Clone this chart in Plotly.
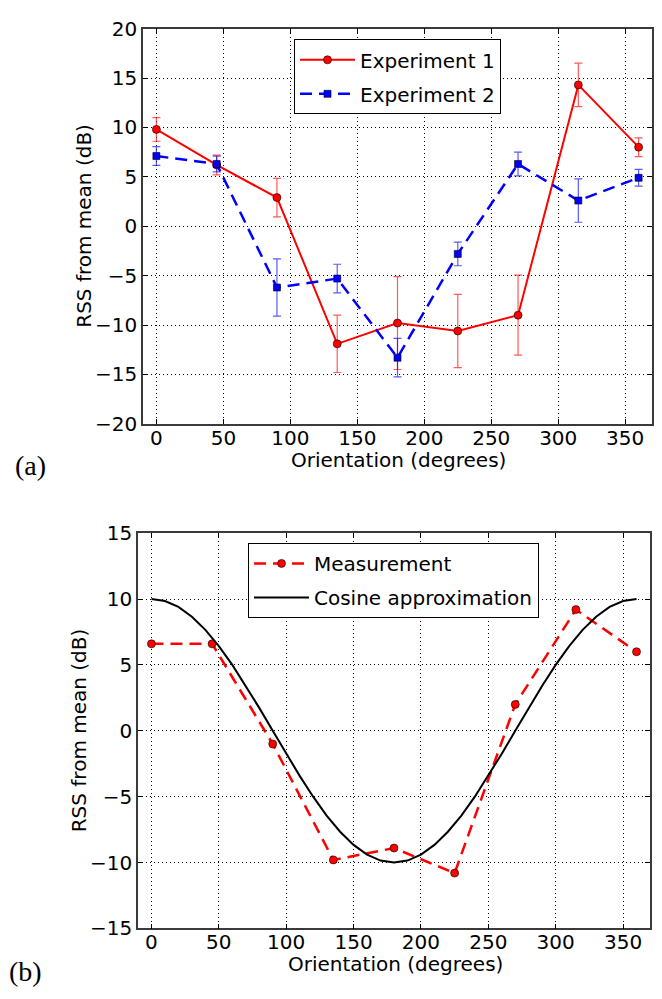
import plotly.graph_objects as go

# ---- data ----
angles = [0, 45, 90, 135, 180, 225, 270, 315, 360]
exp1 = [9.8, 6.2, 2.9, -11.9, -9.8, -10.6, -9.0, 14.3, 8.0]
exp1_err = [1.2, 1.0, 1.95, 2.9, 4.7, 3.7, 4.05, 2.2, 0.95]
exp2 = [7.1, 6.3, -6.2, -5.3, -13.3, -2.8, 6.3, 2.6, 4.9]
exp2_err = [0.95, 0.8, 2.9, 1.45, 1.95, 1.2, 1.2, 2.2, 0.85]

meas = [6.6, 6.6, -1.0, -9.8, -8.9, -10.8, 2.0, 9.2, 6.0]
cos_x = [0, 10, 20, 30, 40, 50, 60, 70, 80, 90, 100, 110, 120, 130, 140, 150, 160, 170, 180,
         190, 200, 210, 220, 230, 240, 250, 260, 270, 280, 290, 300, 310, 320, 330, 340, 350, 360]
cos_y = [10, 9.85, 9.40, 8.66, 7.66, 6.43, 5.0, 3.42, 1.74, 0, -1.74, -3.42, -5.0, -6.43, -7.66,
         -8.66, -9.40, -9.85, -10, -9.85, -9.40, -8.66, -7.66, -6.43, -5.0, -3.42, -1.74, 0,
         1.74, 3.42, 5.0, 6.43, 7.66, 8.66, 9.40, 9.85, 10]

x_ticks = [0, 50, 100, 150, 200, 250, 300, 350]
y_ticks_a = [-20, -15, -10, -5, 0, 5, 10, 15, 20]
y_ticks_b = [-15, -10, -5, 0, 5, 10, 15]

x_title = "Orientation (degrees)"
y_title = "RSS from mean (dB)"

FONT = "DejaVu Sans"
W, H = 662, 999

fig = go.Figure()

fig.add_trace(go.Scatter(
    x=angles, y=exp1, name="Experiment 1", mode="lines+markers", legendgroup="e1",
    line=dict(color="#ff0000", width=2),
    marker=dict(symbol="circle", size=8, color="#ff0000", line=dict(color="#000", width=0.6)),
    error_y=dict(type="data", array=exp1_err, color="rgba(255,0,0,0.65)", thickness=1.2, width=4),
    xaxis="x", yaxis="y", legend="legend"))
fig.add_trace(go.Scatter(
    x=angles, y=exp2, name="Experiment 2", mode="lines+markers", legendgroup="e2",
    line=dict(color="#0000ff", width=2.5, dash="12px,7px"),
    marker=dict(symbol="square", size=7, color="#0000ff", line=dict(color="#000", width=0.6)),
    error_y=dict(type="data", array=exp2_err, color="rgba(0,0,255,0.65)", thickness=1.2, width=4),
    xaxis="x", yaxis="y", legend="legend"))

fig.add_trace(go.Scatter(
    x=angles, y=meas, name="Measurement", mode="lines+markers", legendgroup="m",
    line=dict(color="#ff0000", width=2.5, dash="12px,7px"),
    marker=dict(symbol="circle", size=8, color="#ff0000", line=dict(color="#000", width=0.6)),
    xaxis="x2", yaxis="y2", legend="legend2"))
fig.add_trace(go.Scatter(
    x=cos_x, y=cos_y, name="Cosine approximation", mode="lines", legendgroup="c",
    line=dict(color="#000000", width=2),
    xaxis="x2", yaxis="y2", legend="legend2"))

axis_common = dict(
    showline=True, linecolor="#3a3a3a", linewidth=1.5, mirror="ticks",
    ticks="inside", ticklen=5, tickcolor="#000", tickwidth=1,
    showgrid=True, gridcolor="#000", gridwidth=1, griddash="1px,3px",
    zeroline=False, tickfont=dict(family=FONT, size=20, color="#000"),
)

legend_common = dict(xanchor="left", yanchor="top", bgcolor="white", bordercolor="#000",
                     borderwidth=1, font=dict(family=FONT, size=20), tracegroupgap=5,
                     itemwidth=55)

title_font = dict(family=FONT, size=20, color="#000")
label_font = dict(family="Liberation Serif", size=28, color="#000")


def ann(text, px, py, font, angle=0):
    return dict(text=text, x=px / W, y=1 - py / H, xref="paper", yref="paper",
                xanchor="center", yanchor="middle", showarrow=False, font=font,
                textangle=angle)


fig.update_layout(
    width=W, height=H, margin=dict(l=0, r=0, t=0, b=0),
    paper_bgcolor="white", plot_bgcolor="white",
    font=dict(family=FONT, size=20, color="#000"),
    xaxis=dict(axis_common, domain=[143 / W, 652 / W], range=[-10, 370], tickvals=x_ticks,
               anchor="y", ticklabelstandoff=-5),
    yaxis=dict(axis_common, domain=[1 - 422 / H, 1 - 17 / H], range=[-20, 20], tickvals=y_ticks_a,
               anchor="x"),
    xaxis2=dict(axis_common, domain=[138 / W, 650 / W], range=[-10, 370], tickvals=x_ticks,
                anchor="y2", ticklabelstandoff=-5),
    yaxis2=dict(axis_common, domain=[1 - 939 / H, 1 - 534 / H], range=[-15, 15], tickvals=y_ticks_b,
                anchor="x2"),
    legend=dict(legend_common, x=294 / W, y=1 - 28 / H),
    legend2=dict(legend_common, x=248 / W, y=1 - 544 / H),
    showlegend=True,
    annotations=[
        ann(x_title, 398, 459, title_font),
        ann(y_title, 84, 219, title_font, -90),
        ann(x_title, 395, 975, title_font),
        ann(y_title, 79, 736, title_font, -90),
        ann("(a)", 30, 465, label_font),
        ann("(b)", 25, 983, label_font),
    ],
)

fig.write_html("out.html")
